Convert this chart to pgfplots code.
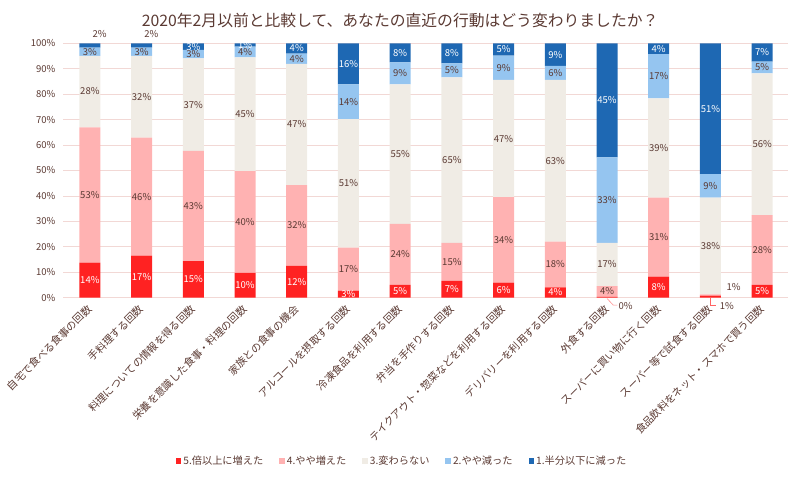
\documentclass[border=0pt]{standalone}
\usepackage{fontspec}
\setmainfont{Noto Sans CJK JP}
\usepackage{pgfplots}
\usepackage{pgfplotstable}
\pgfplotsset{compat=1.18}
\definecolor{cA}{HTML}{FF2222}
\definecolor{cB}{HTML}{FFB2B2}
\definecolor{cC}{HTML}{F0ECE5}
\definecolor{cD}{HTML}{95C5F0}
\definecolor{cE}{HTML}{1E68B3}
\definecolor{txt}{HTML}{5B3A33}
\definecolor{gridc}{HTML}{F2D8D5}
\pgfplotstableread{
x a b c d e la lb lc ld le
0 13.8 53.2 28.1 3.2 1.7 14 53 28 3 2
1 16.5 46.4 32.2 3.2 1.7 17 46 32 3 2
2 14.4 43.3 36.4 3.3 2.6 15 43 37 3 3
3 9.8 40.0 44.7 4.2 1.3 10 40 45 4 1
4 12.5 31.8 47.6 4.0 4.1 12 32 47 4 4
5 2.8 16.9 50.5 13.7 16.1 3 17 51 14 16
6 5.0 24.0 54.9 8.6 7.5 5 24 55 9 8
7 6.6 15.0 65.0 5.5 7.9 7 15 65 5 8
8 5.9 33.6 46.1 9.6 4.8 6 34 47 9 5
9 4.1 17.9 63.6 5.5 8.9 4 18 63 6 9
10 0.3 4.3 17.0 33.6 44.8 0 4 17 33 45
11 8.3 31.0 39.1 17.3 4.3 8 31 39 17 4
12 0.8 0.5 38.0 9.3 51.4 1 1 38 9 51
13 5.0 27.5 55.7 4.6 7.2 5 28 56 5 7
}\data
\begin{document}
\begin{tikzpicture}
\useasboundingbox (0,0) rectangle (800pt,477pt);
\pgfplotsset{
  common/.style={at={(63pt,179.3pt)}, anchor=south west, scale only axis,
    width=725pt, height=254.4pt, xmin=-0.52, xmax=13.5, ymin=0, ymax=100, clip=false},
  lbl/.style={draw=none, mark=none, nodes near coords={\pgfplotspointmeta\%},
    point meta=explicit symbolic,
    every node near coord/.append style={anchor=center, font=\fontsize{9.5}{10}\selectfont, inner sep=0pt, text=#1}},
  lg/.style={legend image code/.code={\fill[##1] (0pt,-2.8pt) rectangle (5.6pt,2.8pt);}},
}
\begin{axis}[common, ybar stacked, bar width=21pt,
  axis line style={draw=none}, major tick length=0pt,
  ymajorgrids, grid style={gridc, line width=0.8pt},
  ytick={0,10,...,100}, yticklabel={\pgfmathprintnumber{\tick}\%},
  /pgf/number format/assume math mode=true,
  yticklabel style={font=\fontsize{9.5}{11}\selectfont, text=txt, xshift=-4pt},
  xtick={0,...,13},
  xticklabels={自宅で食べる食事の回数,手料理する回数,料理についての情報を得る回数,栄養を意識した食事・料理の回数,家族との食事の機会,アルコールを摂取する回数,冷凍食品を利用する回数,弁当を手作りする回数,テイクアウト・惣菜などを利用する回数,デリバリーを利用する回数,外食する回数,スーパーに買い物に行く回数,スーパー等で試食する回数,食品飲料をネット・スマホで買う回数},
  xticklabel style={yshift=-9.5pt, xshift=0pt, rotate=45, anchor=east, font=\fontsize{10.4}{12}\selectfont, text=txt, inner sep=0pt},
  title={2020年2月以前と比較して、あなたの直近の行動はどう変わりましたか？},
  title style={at={(0.465,1.068)}, anchor=center, font=\fontsize{15.8}{18}\selectfont, text=txt},
  legend style={at={(0.4676,-0.642)}, anchor=center, draw=none, fill=none,
    legend columns=-1, font=\fontsize{10.2}{12}\selectfont, text=txt,
    /tikz/every even column/.append style={column sep=14pt}},
]
\addplot[fill=cA, draw=none, lg] table[x=x,y=a]{\data};
\addplot[fill=cB, draw=none, lg] table[x=x,y=b]{\data};
\addplot[fill=cC, draw=none, lg] table[x=x,y=c]{\data};
\addplot[fill=cD, draw=none, lg] table[x=x,y=d]{\data};
\addplot[fill=cE, draw=none, lg] table[x=x,y=e]{\data};
\legend{5.倍以上に増えた,4.やや増えた,3.変わらない,2.やや減った,1.半分以下に減った}
\end{axis}
\begin{axis}[common, hide axis]
\addplot[lbl=white, skip coords between index={10}{11}, skip coords between index={12}{13}]
  table[x=x, y expr=\thisrow{a}/2, meta=la]{\data};
\addplot[lbl=txt, skip coords between index={12}{13}]
  table[x=x, y expr=\thisrow{a}+\thisrow{b}/2, meta=lb]{\data};
\addplot[lbl=txt]
  table[x=x, y expr=\thisrow{a}+\thisrow{b}+\thisrow{c}/2, meta=lc]{\data};
\addplot[lbl=txt]
  table[x=x, y expr=\thisrow{a}+\thisrow{b}+\thisrow{c}+\thisrow{d}/2, meta=ld]{\data};
\addplot[lbl=white, skip coords between index={0}{2}]
  table[x=x, y expr=\thisrow{a}+\thisrow{b}+\thisrow{c}+\thisrow{d}+\thisrow{e}/2, meta=le]{\data};
\addplot[lbl=txt] coordinates {(0.19,103.6) [2] (1.19,103.6) [2] (12.45,4.3) [1]};
\addplot[lbl=txt, every node near coord/.append style={anchor=west}] coordinates {(10.22,-3.2) [0] (12.18,-3.2) [1]};
\addplot[draw=cB!80!red, mark=none, line width=0.6pt] coordinates {(10.0,-0.3) (10.12,-2.9) (10.2,-2.9)};
\addplot[draw=cA!70, mark=none, line width=0.6pt] coordinates {(12.0,-0.3) (12.0,-2.9) (12.1,-2.9)};
\end{axis}
\end{tikzpicture}
\end{document}
